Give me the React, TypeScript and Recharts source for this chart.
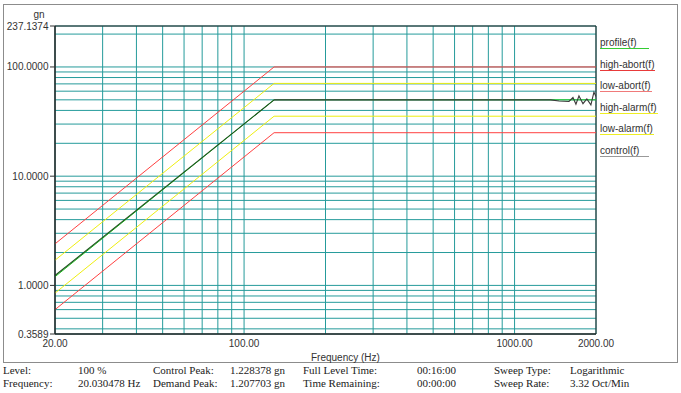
import React from 'react';
import { LineChart, Line, XAxis, YAxis, CartesianGrid, ReferenceArea } from 'recharts';

// ---- data ----
const limitFreq = [20, 129.1, 2000];
const profile = [1.2, 50, 50];
const highAbort = [2.4, 100, 100];
const highAlarm = [1.7, 70.7, 70.7];
const lowAlarm = [0.85, 35.4, 35.4];
const lowAbort = [0.6, 25, 25];

const controlRiseFreq = [20, 129.1];
const controlRise = [1.23, 50];
const controlFlatFreq = [129.1, 1360, 1460, 1589, 1644, 1686, 1730, 1790, 1850, 1915, 1965, 2000];
const controlFlat = [50, 50, 48.8, 48.3, 52.5, 45.6, 54.3, 46.1, 51, 45, 58.8, 53.5];

const xMajor = [20, 100, 1000, 2000];
const xGrid = [20, 30, 40, 50, 60, 70, 80, 90, 100, 200, 300, 400, 500, 600, 700, 800, 900, 1000, 2000];
const yMajor = [0.3589, 1, 10, 100, 237.1374];
const yGrid = [0.3589, 0.4, 0.5, 0.6, 0.7, 0.8, 0.9, 1, 2, 3, 4, 5, 6, 7, 8, 9, 10, 20, 30, 40, 50, 60, 70, 80, 90, 100, 200, 237.1374];

const legendNames = ['profile(f)', 'high-abort(f)', 'low-abort(f)', 'high-alarm(f)', 'low-alarm(f)', 'control(f)'];
const legendColors = ['#33cc33', '#e83a3a', '#f07a7a', '#eeee22', '#eeee22', '#999999'];

const infoRow1 = ['Level:', '100 %', 'Control Peak:', '1.228378 gn', 'Full Level Time:', '00:16:00', 'Sweep Type:', 'Logarithmic'];
const infoRow2 = ['Frequency:', '20.030478 Hz', 'Demand Peak:', '1.207703 gn', 'Time Remaining:', '00:00:00', 'Sweep Rate:', '3.32 Oct/Min'];

const pts = (fs: number[], vs: number[]) => fs.map((f, i) => ({ f, v: vs[i] }));

const SANS = '"Liberation Sans", Arial, sans-serif';
const SERIF = '"Liberation Serif", "Times New Roman", serif';
const GRID = '#259b9b';
const RED = '#ff4040';
const YELLOW = '#eeee10';

const XTick = (props: any) => {
  const { x, y, payload } = props;
  if (!xMajor.includes(payload.value)) return <g />;
  return (
    <text x={x} y={y} dy="0.71em" textAnchor="middle" fontSize={10} fontFamily={SANS} fill="#333">
      {Number(payload.value).toFixed(2)}
    </text>
  );
};

const YTick = (props: any) => {
  const { x, y, payload } = props;
  if (!yMajor.includes(payload.value)) return <g />;
  return (
    <g>
      <line x1={x + 1} x2={x + 6} y1={y} y2={y} stroke="#333" strokeWidth={1} />
      <text x={x - 0.5} y={y} dy="0.35em" textAnchor="end" fontSize={10} fontFamily={SANS} fill="#333">
        {Number(payload.value).toFixed(4)}
      </text>
    </g>
  );
};

const colX = [3, 78, 153, 230, 303, 417, 494, 570];

export default function App() {
  return (
    <div style={{ position: 'absolute', left: 0, top: 0, width: 681, height: 393, background: '#fff', overflow: 'hidden' }}>
      <div style={{ position: 'absolute', left: 3, top: 4, width: 673, height: 357, border: '1px solid #8c8c8c', boxSizing: 'content-box' }} />
      <div style={{ position: 'absolute', left: 0, top: 0 }}>
        <LineChart width={681} height={393} margin={{ top: 26, right: 85, bottom: 29, left: 5 }}>
          <CartesianGrid stroke={GRID} strokeWidth={1} />
          <XAxis
            dataKey="f"
            type="number"
            scale="log"
            domain={[20, 2000]}
            ticks={xGrid}
            interval={0}
            allowDataOverflow
            height={30}
            tickSize={4}
            tickMargin={2}
            tickLine={false}
            axisLine={{ stroke: '#222' }}
            tick={<XTick />}
          />
          <YAxis
            dataKey="v"
            type="number"
            scale="log"
            domain={[0.3589, 237.1374]}
            ticks={yGrid}
            interval={0}
            allowDataOverflow
            width={50}
            tickSize={5}
            tickMargin={1}
            tickLine={false}
            axisLine={{ stroke: '#222' }}
            tick={<YTick />}
          />
          <ReferenceArea x1={20} x2={2000} y1={0.3589} y2={237.1374} fill="none" stroke="#222" strokeWidth={1} />
          <Line data={pts(limitFreq, profile)} dataKey="v" type="linear" dot={false} stroke="#22cc22" strokeWidth={1} isAnimationActive={false} />
          <Line data={pts(limitFreq, highAbort)} dataKey="v" type="linear" dot={false} stroke={RED} strokeWidth={1} isAnimationActive={false} />
          <Line data={pts(limitFreq, highAlarm)} dataKey="v" type="linear" dot={false} stroke={YELLOW} strokeWidth={1} isAnimationActive={false} />
          <Line data={pts(limitFreq, lowAlarm)} dataKey="v" type="linear" dot={false} stroke={YELLOW} strokeWidth={1} isAnimationActive={false} />
          <Line data={pts(limitFreq, lowAbort)} dataKey="v" type="linear" dot={false} stroke={RED} strokeWidth={1} isAnimationActive={false} />
          <Line data={pts(controlRiseFreq, controlRise)} dataKey="v" type="linear" dot={false} stroke="#1d4d1d" strokeWidth={1.1} isAnimationActive={false} />
          <Line data={pts(controlFlatFreq, controlFlat)} dataKey="v" type="linear" dot={false} stroke="#3a3a3a" strokeWidth={1.1} isAnimationActive={false} />
        </LineChart>
      </div>

      <div style={{ position: 'absolute', left: 28, top: 10, width: 22, textAlign: 'center', fontFamily: SANS, fontSize: 10, lineHeight: '10px', color: '#333' }}>gn</div>
      <div style={{ position: 'absolute', left: 311, top: 352, fontFamily: SANS, fontSize: 10, lineHeight: '11px', color: '#333', whiteSpace: 'nowrap' }}>Frequency (Hz)</div>

      {legendNames.map((name, i) => (
        <div
          key={name}
          style={{
            position: 'absolute',
            left: 600,
            top: 38 + i * 21.5,
            minWidth: 48,
            paddingRight: 1,
            fontFamily: SANS,
            fontSize: 10,
            lineHeight: '10px',
            color: '#333',
            whiteSpace: 'nowrap',
            borderBottom: `1px solid ${legendColors[i]}`,
          }}
        >
          {name}
        </div>
      ))}

      {[infoRow1, infoRow2].map((row, r) =>
        row.map((t, c) => (
          <div
            key={`${r}-${c}`}
            style={{ position: 'absolute', left: colX[c], top: 364 + r * 13, fontFamily: SERIF, fontSize: 11, lineHeight: '12px', color: '#222', whiteSpace: 'nowrap' }}
          >
            {t}
          </div>
        ))
      )}
    </div>
  );
}
